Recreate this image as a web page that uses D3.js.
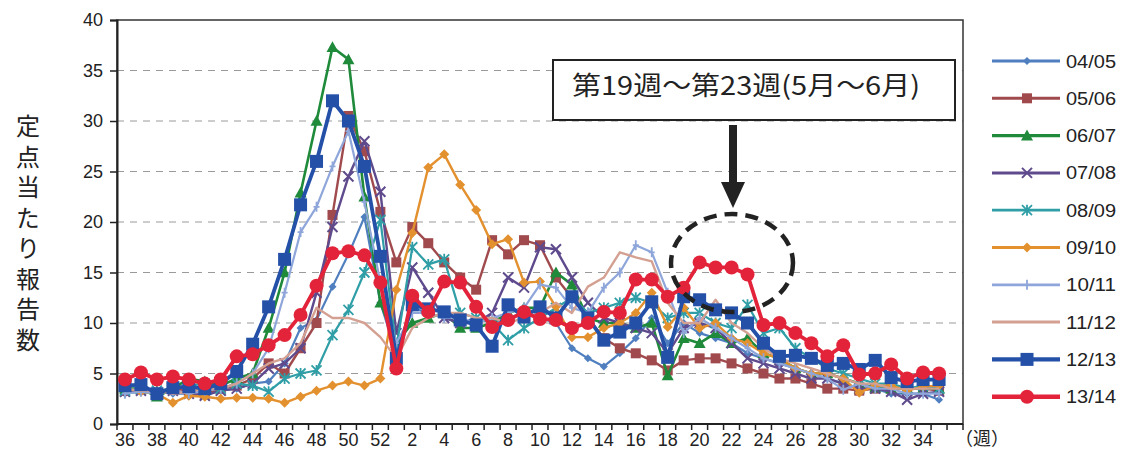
<!DOCTYPE html>
<html>
<head>
<meta charset="utf-8">
<script src="https://cdn.jsdelivr.net/npm/d3@7"></script>
<style>
  html, body { margin: 0; padding: 0; background: #fff; }
  svg { display: block; }
</style>
</head>
<body>
<svg id="chart" width="1122" height="452"></svg>
<script>
// Week categories: week 36 of one year through week 35 of the next
const weeks = ["36","37","38","39","40","41","42","43","44","45","46","47","48","49","50","51","52",
  "1","2","3","4","5","6","7","8","9","10","11","12","13","14","15","16","17","18","19","20",
  "21","22","23","24","25","26","27","28","29","30","31","32","33","34","35"];

const seasons = ["04/05","05/06","06/07","07/08","08/09","09/10","10/11","11/12","12/13","13/14"];

const s0405 = [3.0,3.2,3.3,3.0,3.0,3.2,3.3,3.5,4.0,4.2,6.0,9.5,10.3,13.6,16.8,20.5,12.0,
  7.0,11.5,11.0,10.5,10.0,10.5,10.0,10.5,11.0,10.5,10.0,7.5,6.5,5.7,7.0,8.5,10.5,8.0,10.0,9.0,
  8.5,8.0,7.0,6.5,6.0,5.5,5.0,4.5,4.0,3.5,3.5,3.0,3.0,3.0,2.4];
const s0506 = [3.3,3.5,3.0,3.5,3.3,3.0,3.5,3.8,4.5,6.0,5.0,7.5,10.0,20.7,30.5,27.0,21.0,
  16.0,19.5,17.9,16.0,14.5,13.3,18.2,16.8,18.2,17.7,14.5,12.5,10.5,8.5,7.5,7.0,6.3,5.3,6.3,6.5,
  6.5,6.0,5.5,5.0,4.5,4.5,4.0,3.5,3.5,3.3,3.5,3.5,3.5,3.5,3.3];
const s0607 = [3.5,3.5,2.7,3.5,4.5,4.2,3.8,4.5,5.0,9.5,15.0,22.9,30.0,37.3,36.1,22.5,12.0,
  8.0,10.0,10.5,11.0,9.5,9.5,10.0,11.0,11.5,11.5,15.0,13.8,10.5,10.0,10.0,9.5,10.0,4.8,8.5,8.0,
  9.0,8.0,8.5,7.0,6.5,5.5,5.0,5.0,4.5,4.0,3.6,3.5,3.5,3.5,3.5];
const s0708 = [3.2,3.3,3.0,3.3,3.0,2.8,3.3,3.5,4.0,5.5,6.0,7.5,13.0,19.5,24.5,28.0,23.0,
  9.0,15.5,13.0,10.5,10.0,10.0,11.0,14.5,13.5,17.5,17.3,14.5,12.0,10.5,10.0,9.5,9.0,7.0,9.5,10.0,
  9.5,8.0,6.5,6.0,5.5,5.0,4.5,4.5,4.0,3.5,3.5,3.2,2.4,3.0,3.2];
const s0809 = [3.3,3.5,3.3,3.5,3.8,4.0,3.5,4.0,3.8,3.2,4.5,5.0,5.3,8.8,11.3,15.0,20.2,
  7.5,17.5,15.8,16.3,11.0,10.5,10.0,8.3,9.5,10.5,11.5,12.5,11.0,11.5,12.0,12.5,12.0,10.5,11.0,11.0,
  10.0,9.5,11.8,9.0,9.5,7.5,6.5,5.5,5.0,4.5,4.0,4.0,3.5,3.8,3.5];
const s0910 = [3.5,3.2,3.0,2.1,2.8,2.7,2.5,2.6,2.6,2.5,2.1,2.7,3.3,3.8,4.2,3.8,4.5,
  13.3,18.9,25.4,26.7,23.7,21.2,17.8,18.3,14.0,14.1,11.6,8.6,8.6,9.5,10.0,11.0,13.0,9.6,11.5,9.5,
  10.0,8.5,8.0,7.0,6.5,5.5,5.0,5.0,4.5,3.1,3.8,3.8,3.3,3.7,3.8];
const s1011 = [3.0,3.2,3.0,3.3,3.0,3.3,3.5,4.0,5.0,7.5,13.0,19.0,21.5,25.5,29.0,22.0,14.0,
  8.0,11.0,11.0,10.5,10.5,10.0,10.5,11.0,11.5,13.8,13.5,11.5,11.0,13.5,15.0,17.7,17.0,13.0,9.0,10.5,
  9.5,8.5,7.5,6.5,6.0,5.5,5.0,4.5,3.4,4.0,3.5,3.5,3.0,3.0,3.0];
const s1112 = [3.5,3.3,3.3,3.0,3.2,3.5,3.5,4.0,5.0,6.0,6.5,8.0,11.5,10.5,10.5,10.0,8.6,
  6.5,9.5,10.5,11.0,11.0,10.5,10.5,10.0,10.5,11.0,12.0,11.0,13.6,14.5,17.0,16.5,16.1,12.0,10.0,10.0,
  12.3,10.0,9.0,7.5,6.5,6.0,5.5,5.0,4.5,4.0,4.0,3.5,3.5,3.5,3.5];
const s1213 = [3.8,3.9,3.0,3.6,3.7,3.5,4.0,5.2,7.9,11.6,16.3,21.7,26.0,32.0,30.0,25.5,16.6,
  6.5,11.8,11.4,11.1,10.3,9.8,7.7,11.8,10.6,11.6,10.5,12.6,10.5,8.3,9.1,10.0,12.1,6.6,12.6,12.3,
  11.3,11.0,10.0,8.0,6.7,6.8,6.5,5.8,6.0,5.4,6.3,4.6,4.2,4.4,4.4];
const s1314 = [4.4,5.1,4.4,4.7,4.4,4.0,4.4,6.7,6.9,7.8,8.8,10.8,13.7,16.9,17.1,16.7,14.0,
  5.5,12.7,11.1,14.1,14.0,11.6,9.6,10.3,11.1,10.4,10.3,9.5,10.0,11.1,11.0,14.3,14.3,12.6,13.5,16.0,
  15.5,15.5,14.8,9.8,10.0,9.0,8.0,6.7,7.8,4.9,5.0,5.9,4.5,5.1,5.0];

const seriesValues = [s0405, s0506, s0607, s0708, s0809, s0910, s1011, s1112, s1213, s1314];

const yTicks = [0,5,10,15,20,25,30,35,40];
const yTitle = "定点当たり報告数";
const xUnit = "（週）";
const noteText = "第19週～第23週(5月～6月)";

// Visual style per season
const styles = [
  { color: "#4f7fbf", width: 2.2, marker: "diamond", size: 4 },
  { color: "#a04a4d", width: 2.4, marker: "square",  size: 5 },
  { color: "#1e8a3a", width: 2.6, marker: "triangle", size: 6 },
  { color: "#5e4a8c", width: 2.4, marker: "cross",   size: 5 },
  { color: "#2f9ea6", width: 2.2, marker: "star",    size: 5 },
  { color: "#e3902f", width: 2.4, marker: "diamond", size: 5 },
  { color: "#8ea6da", width: 2.2, marker: "plus",    size: 5 },
  { color: "#d4a092", width: 2.4, marker: "none",    size: 0 },
  { color: "#2450a8", width: 3.8, marker: "square",  size: 6.5 },
  { color: "#e3233a", width: 3.8, marker: "circle",  size: 7 }
];

const svg = d3.select("#chart");
const L = 117, R = 963, T = 20, B = 424;

const x = d3.scaleBand().domain(d3.range(weeks.length + 1)).range([L, R]).paddingInner(0).paddingOuter(0);
const bw = x.bandwidth();
const cx = i => x(i) + bw / 2;
const y = d3.scaleLinear().domain([0, 40]).range([B, T]);

// gridlines
svg.append("g").selectAll("line")
  .data(yTicks.filter(v => v > 0 && v < 40))
  .join("line")
  .attr("x1", L).attr("x2", R)
  .attr("y1", d => y(d)).attr("y2", d => y(d))
  .attr("stroke", "#9a9a9a").attr("stroke-width", 1)
  .attr("stroke-dasharray", "7,6");

// plot frame
svg.append("rect")
  .attr("x", L).attr("y", T).attr("width", R - L).attr("height", B - T)
  .attr("fill", "none").attr("stroke", "#333").attr("stroke-width", 1.5);

// y axis
const yAxis = d3.axisLeft(y).tickValues(yTicks).tickSize(7).tickPadding(7).tickFormat(d3.format("d"));
const gy = svg.append("g").attr("transform", `translate(${L},0)`).call(yAxis);
gy.select(".domain").attr("stroke", "#222").attr("stroke-width", 2);
gy.selectAll(".tick line").attr("stroke", "#222").attr("stroke-width", 1.5);
gy.selectAll(".tick text").attr("font-family", "'Liberation Sans', Arial, sans-serif")
  .attr("font-size", 18).attr("fill", "#222");

// x axis: ticks at category boundaries, labels every other week
const gx = svg.append("g");
gx.append("line").attr("x1", L).attr("x2", R).attr("y1", B).attr("y2", B)
  .attr("stroke", "#222").attr("stroke-width", 2);
gx.selectAll("line.tk").data(d3.range(weeks.length + 2)).join("line").attr("class", "tk")
  .attr("x1", i => L + i * bw).attr("x2", i => L + i * bw)
  .attr("y1", B).attr("y2", B + 6)
  .attr("stroke", "#222").attr("stroke-width", 1.5);
gx.selectAll("text").data(weeks.map((w, i) => ({ w, i })).filter(d => d.i % 2 === 0))
  .join("text")
  .attr("x", d => cx(d.i)).attr("y", B + 22)
  .attr("text-anchor", "middle")
  .attr("font-family", "'Liberation Sans', Arial, sans-serif")
  .attr("font-size", 18).attr("fill", "#222")
  .text(d => d.w);

svg.append("text").attr("x", 982).attr("y", B + 21).attr("text-anchor", "middle")
  .attr("font-family", "'Noto Sans CJK JP', sans-serif").attr("font-size", 18).attr("fill", "#222")
  .text(xUnit);

// y title, written vertically in one text element
svg.append("text")
  .attr("x", 28).attr("y", 114)
  .attr("font-family", "'Noto Sans CJK JP', sans-serif")
  .attr("font-size", 24).attr("fill", "#222")
  .style("writing-mode", "vertical-rl")
  .style("text-orientation", "upright")
  .style("letter-spacing", "6.5px")
  .text(yTitle);

// marker drawing
function drawMarker(g, kind, s, color) {
  if (kind === "none") return;
  if (kind === "circle") {
    g.append("circle").attr("r", s).attr("fill", color);
  } else if (kind === "square") {
    g.append("rect").attr("x", -s).attr("y", -s).attr("width", 2 * s).attr("height", 2 * s).attr("fill", color);
  } else if (kind === "diamond") {
    g.append("path").attr("d", `M0,${-s}L${s},0L0,${s}L${-s},0Z`).attr("fill", color);
  } else if (kind === "triangle") {
    g.append("path").attr("d", `M0,${-s}L${s},${s * 0.8}L${-s},${s * 0.8}Z`).attr("fill", color);
  } else if (kind === "cross") {
    g.append("path").attr("d", `M${-s},${-s}L${s},${s}M${-s},${s}L${s},${-s}`)
      .attr("stroke", color).attr("stroke-width", 2).attr("fill", "none");
  } else if (kind === "star") {
    g.append("path").attr("d", `M${-s},${-s}L${s},${s}M${-s},${s}L${s},${-s}M0,${-s * 1.1}L0,${s * 1.1}`)
      .attr("stroke", color).attr("stroke-width", 1.8).attr("fill", "none");
  } else if (kind === "plus") {
    g.append("path").attr("d", `M0,${-s}L0,${s}M${-s * 0.6},0L${s * 0.6},0`)
      .attr("stroke", color).attr("stroke-width", 1.8).attr("fill", "none");
  }
}

// series lines
const line = d3.line().x((d, i) => cx(i)).y(d => y(d));
seasons.forEach((name, k) => {
  const st = styles[k];
  const vals = seriesValues[k];
  const g = svg.append("g");
  g.append("path").datum(vals)
    .attr("d", line)
    .attr("fill", "none").attr("stroke", st.color)
    .attr("stroke-width", st.width).attr("stroke-linejoin", "round");
  vals.forEach((v, i) => {
    const m = g.append("g").attr("transform", `translate(${cx(i)},${y(v)})`);
    drawMarker(m, st.marker, st.size, st.color);
  });
});

// legend
const lg = svg.append("g");
seasons.forEach((name, k) => {
  const st = styles[k];
  const ly = 61 + k * 37.3;
  lg.append("line").attr("x1", 992).attr("x2", 1060).attr("y1", ly).attr("y2", ly)
    .attr("stroke", st.color).attr("stroke-width", st.width + 0.6);
  const m = lg.append("g").attr("transform", `translate(1027,${ly})`);
  drawMarker(m, st.marker, st.size, st.color);
  lg.append("text").attr("x", 1066).attr("y", ly + 6.5)
    .attr("font-family", "'Liberation Sans', Arial, sans-serif")
    .attr("font-size", 18).attr("fill", "#222")
    .attr("textLength", 50).attr("lengthAdjust", "spacingAndGlyphs")
    .text(name);
});

// annotation box, arrow and dashed ellipse
svg.append("rect").attr("x", 553).attr("y", 60).attr("width", 402).attr("height", 60)
  .attr("fill", "#fff").attr("stroke", "#222").attr("stroke-width", 2);
svg.append("text").attr("x", 572).attr("y", 95)
  .attr("font-family", "'Noto Sans CJK JP', sans-serif")
  .attr("font-size", 26).attr("fill", "#222")
  .attr("textLength", 348).attr("lengthAdjust", "spacingAndGlyphs")
  .text(noteText);
svg.append("rect").attr("x", 729).attr("y", 125).attr("width", 8).attr("height", 60).attr("fill", "#222");
svg.append("path").attr("d", "M721,182L745,182L733,208Z").attr("fill", "#222");
svg.append("ellipse").attr("cx", 732).attr("cy", 263).attr("rx", 61).attr("ry", 49)
  .attr("fill", "none").attr("stroke", "#222").attr("stroke-width", 4.5)
  .attr("stroke-dasharray", "13,8");
</script>
</body>
</html>
